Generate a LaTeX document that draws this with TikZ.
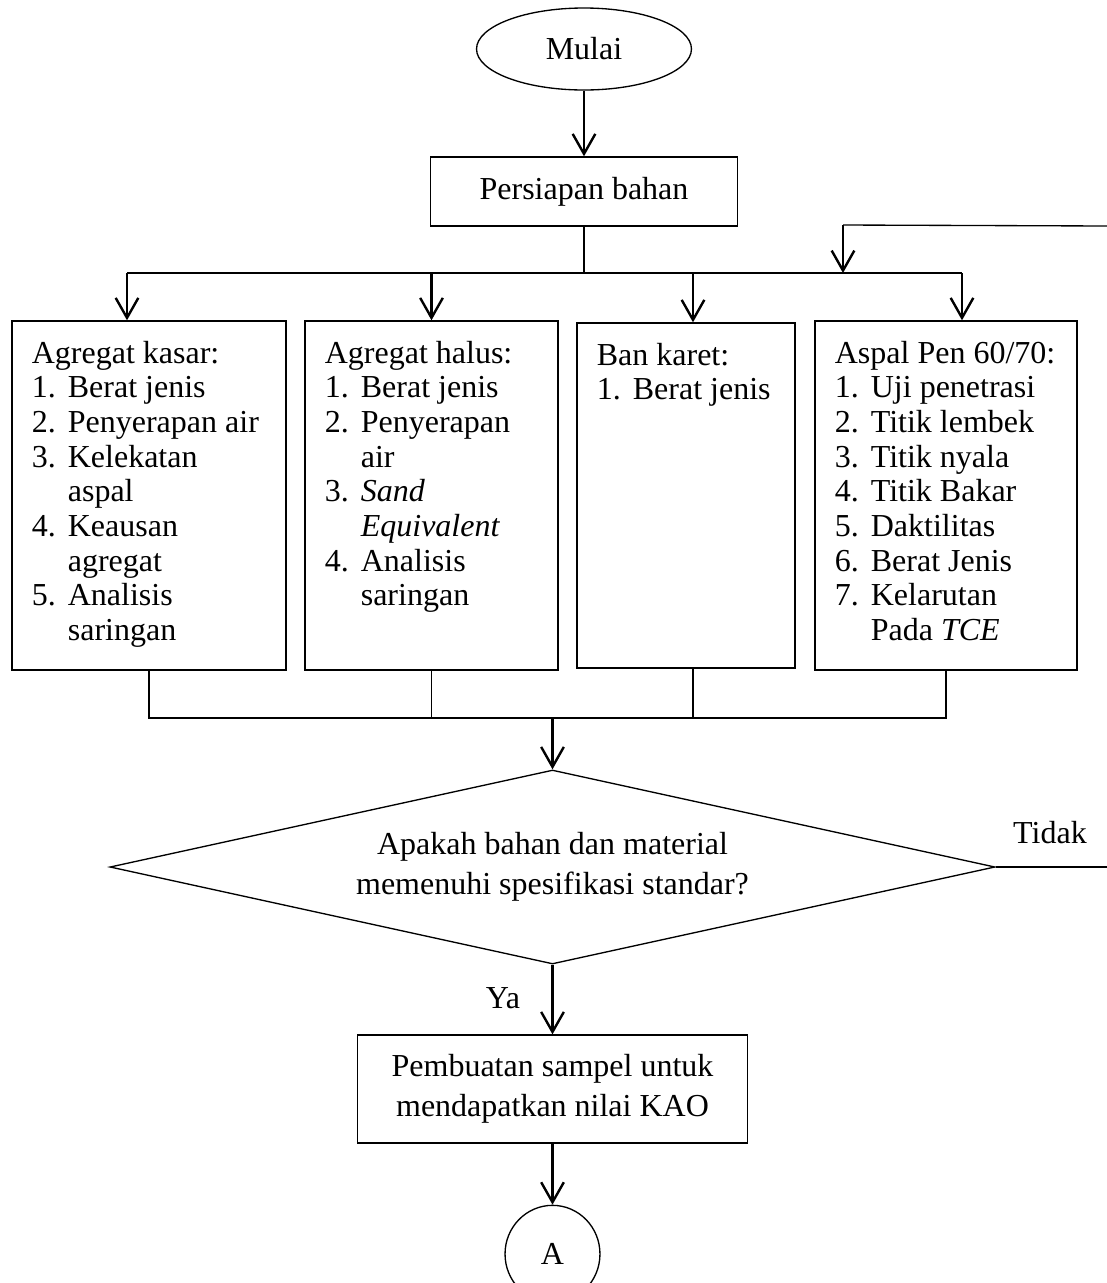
\documentclass[tikz,border=0pt]{standalone}
\usepackage{fontspec}
\setmainfont{Liberation Serif}
\usepackage{tikz}
\usetikzlibrary{shapes,arrows.meta,positioning,calc}

\newcommand{\nr}[1]{\makebox[13.5pt][l]{#1.}}
\newcommand{\sambung}{\hspace*{13.5pt}}

\begin{document}
\begin{tikzpicture}[x=0.375pt, y=-0.375pt,
  every node/.style={font=\fontsize{12pt}{15pt}\selectfont},
  >={Straight Barb[length=7.5pt,width=8.5pt]},
  kotak/.style={draw, line width=0.5pt, inner sep=0pt},
  isi/.style={anchor=north west, align=left, inner sep=0pt, font=\fontsize{12pt}{13pt}\selectfont},
  panah/.style={->, line width=0.9pt},
  garis/.style={line width=0.5pt}]
  \useasboundingbox (0,0) rectangle (1107,1283);

  % Mulai
  \node[kotak, ellipse, minimum width=80.6pt, minimum height=30.75pt] (mulai) at (584,49) {Mulai};

  % Persiapan bahan
  \node[kotak, minimum width=115.1pt, minimum height=25.9pt] (siap) at (584,191.5) {Persiapan bahan};
  \draw[panah] (mulai) -- (siap);

  % Agregat kasar
  \node[kotak, minimum width=102.75pt, minimum height=130.9pt] (kasar) at (149,495.5) {};
  \node[isi] (tkasar) at ([xshift=7.5pt, yshift=-6.75pt]kasar.north west)
    {\strut Agregat kasar:\\ \nr{1}Berat jenis\\ \nr{2}Penyerapan air\\ \nr{3}Kelekatan\\ \sambung aspal\\
     \nr{4}Keausan\\ \sambung agregat\\ \nr{5}Analisis\\ \sambung saringan};

  % Agregat halus
  \node[kotak, minimum width=94.9pt, minimum height=130.9pt] (halus) at (431.5,495.5) {};
  \node[isi] (thalus) at ([xshift=7.5pt, yshift=-6.75pt]halus.north west)
    {\strut Agregat halus:\\ \nr{1}Berat jenis\\ \nr{2}Penyerapan\\ \sambung air\\ \nr{3}\textit{Sand}\\
     \sambung\textit{Equivalent}\\ \nr{4}Analisis\\ \sambung saringan};

  % Ban karet
  \node[kotak, minimum width=81.75pt, minimum height=129.4pt] (karet) at (686,495.5) {};
  \node[isi] (tkaret) at ([xshift=7.5pt, yshift=-6.75pt]karet.north west)
    {\strut Ban karet:\\ \nr{1}Berat jenis};

  % Aspal
  \node[kotak, minimum width=98.25pt, minimum height=130.9pt] (aspal) at (946,495.5) {};
  \node[isi] (taspal) at ([xshift=7.5pt, yshift=-6.75pt]aspal.north west)
    {\strut Aspal Pen 60/70:\\ \nr{1}Uji penetrasi\\ \nr{2}Titik lembek\\ \nr{3}Titik nyala\\ \nr{4}Titik Bakar\\
     \nr{5}Daktilitas\\ \nr{6}Berat Jenis\\ \nr{7}Kelarutan\\ \sambung Pada \textit{TCE}};

  % Percabangan
  \coordinate (busL) at (127,273);
  \coordinate (busR) at (962,273);
  \coordinate (j3) at (693,273);
  \draw[garis] (siap.south) -- (siap.south |- busL);
  \draw[line width=0.9pt] (busL) -- (busR);
  \draw[panah] (busL) -- (busL |- kasar.north);
  \draw[panah] (halus.north |- busL) -- (halus.north);
  \draw[panah] (j3) -- (j3 |- karet.north);
  \draw[panah] (busR) -- (busR |- aspal.north);

  % Kembali
  \coordinate (balikR) at (1107,226);
  \coordinate (balikL) at (843,225);
  \draw[garis] (balikR) -- (balikL);
  \draw[panah] (balikL) -- (balikL |- busL);

  % Pemeriksaan
  \node[kotak, diamond, minimum width=331.9pt, minimum height=72.75pt] (cek) at (552.5,867) {};
  \node[align=center] (tcek) at (cek) {Apakah bahan dan material\\ memenuhi spesifikasi standar?};

  \coordinate (bawah) at (552.5,718);
  \draw[garis] (kasar.south) -- (kasar.south |- bawah) -- (aspal.south |- bawah) -- (aspal.south);
  \draw[garis] (halus.south) -- (halus.south |- bawah);
  \draw[garis] (j3 |- karet.south) -- (j3 |- bawah);
  \draw[panah] (bawah) -- (cek.north);

  % Tidak
  \coordinate (tidakR) at (1107,867);
  \draw[garis] (cek.east) -- (tidakR);
  \node (tidak) at (1050,833) {Tidak};

  % Ya
  \node[kotak, minimum width=146.25pt, minimum height=40.5pt, align=center] (kao) at (552.5,1089)
    {Pembuatan sampel untuk\\ mendapatkan nilai KAO};
  \draw[panah] (cek.south) -- (kao.north);
  \node (ya) at (503,998) {Ya};

  % A
  \node[kotak, ellipse, minimum width=35.6pt, minimum height=36.5pt] (hubA) at (552.5,1254) {A};
  \draw[panah] (kao.south) -- (hubA.north);
\end{tikzpicture}
\end{document}
